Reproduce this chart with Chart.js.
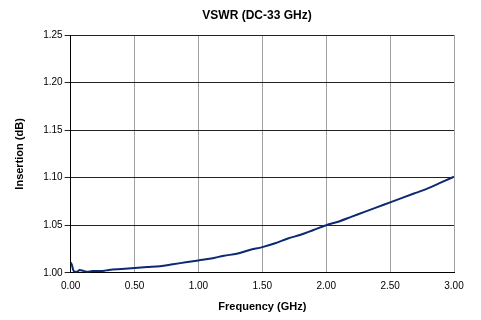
<!DOCTYPE html>
<html>
<head>
<meta charset="utf-8">
<script src="https://cdn.jsdelivr.net/npm/chart.js@4/dist/chart.umd.min.js"></script>
<style>
  html, body { margin: 0; padding: 0; background: #fff; }
  #wrap { width: 481px; height: 320px; }
</style>
</head>
<body>
<div id="wrap"><canvas id="vswrChart" width="481" height="320"></canvas></div>
<script>
// frequency (GHz) and insertion (dB)
const freqGHz = [0.00, 0.01, 0.02, 0.03, 0.05, 0.07, 0.10, 0.13, 0.17, 0.20, 0.25, 0.30, 0.40, 0.50,
    0.60, 0.70, 0.80, 0.90, 1.00, 1.10, 1.20, 1.30, 1.40, 1.50, 1.60, 1.70, 1.80, 1.90, 2.00,
    2.10, 2.20, 2.30, 2.40, 2.50, 2.60, 2.70, 2.80, 2.90, 3.00];
const insertion = [1.011, 1.008, 1.003, 1.001, 1.001, 1.003, 1.002, 1.001, 1.002, 1.002, 1.002, 1.003, 1.004, 1.005,
    1.006, 1.007, 1.009, 1.011, 1.013, 1.015, 1.018, 1.020, 1.024, 1.027, 1.031, 1.036, 1.040, 1.045, 1.050,
    1.054, 1.059, 1.064, 1.069, 1.074, 1.079, 1.084, 1.089, 1.095, 1.101];
const xTicks = [0, 0.5, 1, 1.5, 2, 2.5, 3];
const yTicks = [1.00, 1.05, 1.10, 1.15, 1.20, 1.25];
const chartTitle = 'VSWR (DC-33 GHz)';

const font = "'Liberation Sans', Arial, sans-serif";

const points = freqGHz.map((f, i) => ({ x: f, y: insertion[i] }));

// title sits a bit right of the canvas centre, like in the original
const titlePlugin = {
    id: 'topTitle',
    afterDraw(chart) {
        const c = chart.ctx;
        c.save();
        c.font = 'bold 12px ' + font;
        c.fillStyle = '#000';
        c.textAlign = 'center';
        c.textBaseline = 'middle';
        c.fillText(chartTitle, 257, 16);
        c.restore();
    }
};

const ctx = document.getElementById('vswrChart').getContext('2d');
const vswrChart = new Chart(ctx, {
    type: 'line',
    data: {
        datasets: [{
            label: 'VSWR',
            data: points,
            borderColor: '#0b2a72',
            borderWidth: 2,
            pointRadius: 0,
            cubicInterpolationMode: 'monotone',
            fill: false
        }]
    },
    options: {
        responsive: false,
        animation: false,
        layout: { padding: { left: 13, right: 27, top: 35, bottom: 6 } },
        plugins: {
            legend: { display: false },
            tooltip: { enabled: false },
            title: { display: false }
        },
        scales: {
            x: {
                type: 'linear',
                min: 0,
                max: 3,
                afterBuildTicks: (axis) => { axis.ticks = xTicks.map(v => ({ value: v })); },
                ticks: {
                    color: '#000',
                    font: { family: font, size: 10 },
                    padding: 7,
                    maxRotation: 0,
                    callback: (v) => v.toFixed(2)
                },
                grid: { color: '#a0a0a0', lineWidth: 1, drawTicks: false },
                border: { color: '#000', width: 1 },
                title: {
                    display: true,
                    text: 'Frequency (GHz)',
                    color: '#000',
                    font: { family: font, size: 11, weight: 'bold' },
                    padding: { top: 2, bottom: 0 }
                }
            },
            y: {
                min: 1.00,
                max: 1.25,
                afterBuildTicks: (axis) => { axis.ticks = yTicks.map(v => ({ value: v })); },
                ticks: {
                    color: '#000',
                    font: { family: font, size: 10 },
                    padding: 2,
                    callback: (v) => v.toFixed(2)
                },
                grid: { color: '#222', lineWidth: 1, tickLength: 6 },
                border: { color: '#000', width: 1 },
                title: {
                    display: true,
                    text: 'Insertion (dB)',
                    color: '#000',
                    font: { family: font, size: 11, weight: 'bold' },
                    padding: { top: 0, bottom: 15 }
                }
            }
        }
    },
    plugins: [titlePlugin]
});
</script>
</body>
</html>
